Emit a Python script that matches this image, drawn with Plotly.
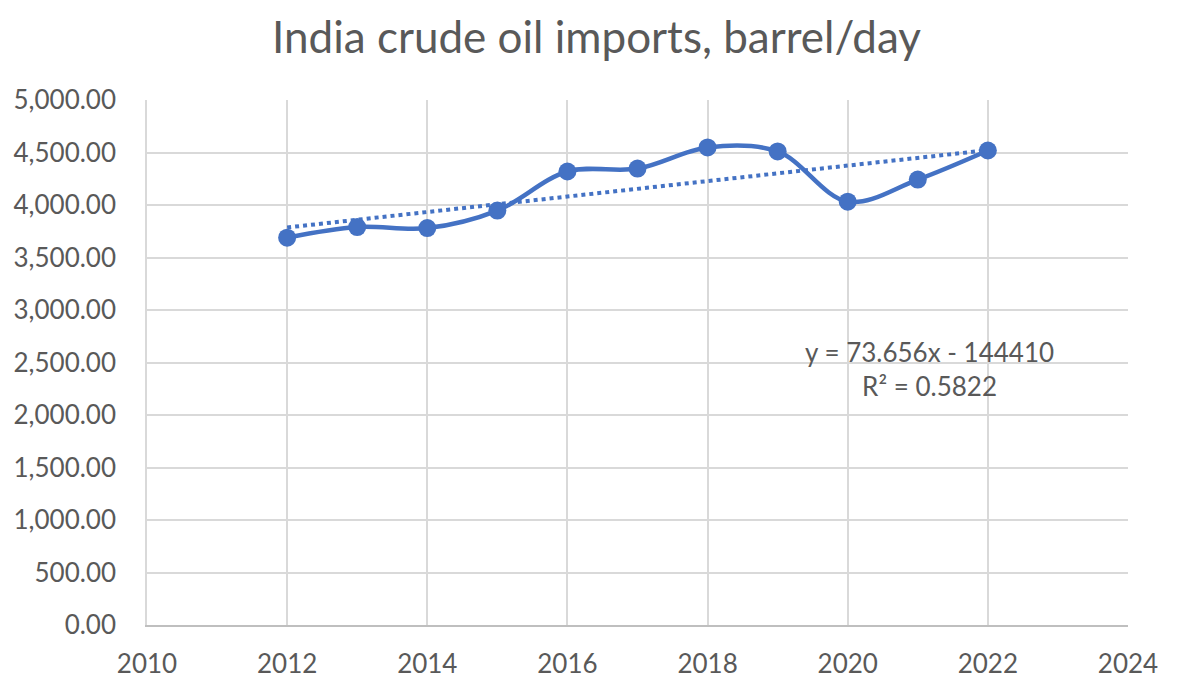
import plotly.graph_objects as go

years = [2012, 2013, 2014, 2015, 2016, 2017, 2018, 2019, 2020, 2021, 2022]
imports = [3689, 3790, 3780, 3947, 4319, 4347, 4548, 4510, 4032, 4242, 4519]
slope = 73.656
intercept = -144410
r_squared = 0.5822

title_text = "India crude oil imports, barrel/day"
x_ticks = [2010, 2012, 2014, 2016, 2018, 2020, 2022, 2024]
y_ticks = [0, 500, 1000, 1500, 2000, 2500, 3000, 3500, 4000, 4500, 5000]

blue = "#4472C4"
grid = "#d9d9d9"
txt = "#595959"
font = "Lato, 'Open Sans', sans-serif"

trend_x = [years[0], years[-1]]
trend_y = [slope * x + intercept for x in trend_x]

fig = go.Figure()
fig.add_trace(go.Scatter(
    x=trend_x, y=trend_y, mode="lines",
    line=dict(color=blue, width=4, dash="dot"),
    hoverinfo="skip", showlegend=False,
))
fig.add_trace(go.Scatter(
    x=years, y=imports, mode="lines+markers",
    line=dict(color=blue, width=4.5, shape="spline", smoothing=1),
    marker=dict(color=blue, size=18),
    showlegend=False,
))

fig.add_annotation(
    x=2021.17, y=2440, xref="x", yref="y",
    text=f"y = {slope}x - {abs(intercept)}<br>R² = {r_squared}",
    showarrow=False, align="center",
    font=dict(family=font, size=26, color=txt),
)

fig.update_layout(
    width=1177, height=677,
    margin=dict(l=139, r=57, t=92, b=60, autoexpand=False),
    paper_bgcolor="white", plot_bgcolor="white",
    title=dict(text=title_text, x=0.5, xanchor="center", y=0.9565, yanchor="middle",
               font=dict(family=font, size=44, color=txt)),
    font=dict(family=font, color=txt),
    xaxis=dict(
        range=[2010, 2024], tickvals=x_ticks, tickformat="d",
        showgrid=True, gridcolor=grid, gridwidth=1.5,
        showline=True, linecolor="#bfbfbf", linewidth=1.5,
        zeroline=False, ticks="", ticklabelstandoff=15, automargin=False,
        tickfont=dict(family=font, size=26, color=txt),
    ),
    yaxis=dict(
        range=[0, 5000], tickvals=y_ticks, tickformat=",.2f",
        showgrid=True, gridcolor=grid, gridwidth=1.5,
        showline=True, linecolor=grid, linewidth=1.5,
        zeroline=False, ticks="", ticklabelstandoff=24, automargin=False,
        tickfont=dict(family=font, size=26, color=txt),
    ),
)

fig.write_html("out.html")
